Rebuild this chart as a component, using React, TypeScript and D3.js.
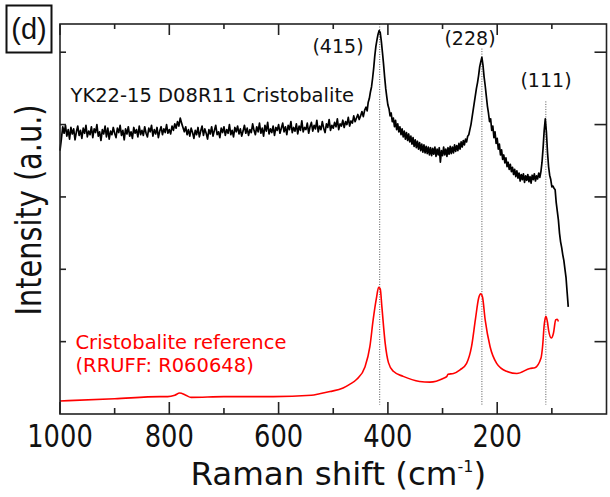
import { useRef, useEffect } from 'react';
import * as d3 from 'd3';

// sample spectrum (YK22-15 D08R11)
// flat part: 1000 -> 442.5 cm-1, every 2.5 cm-1
const sampleFlat = [
    3.64, 3.80, 3.97, 3.88, 3.99, 3.84, 3.93, 3.80, 3.96, 3.87, 3.94, 3.79, 3.90, 3.98, 3.85, 3.92, 3.81, 3.95, 3.88, 3.99,
    3.83, 3.91, 3.86, 3.97, 3.82, 3.94, 3.89, 4.00, 3.84, 3.90, 3.78, 3.93, 3.87, 3.98, 3.83, 3.95, 3.80, 3.91, 3.86, 3.96,
    3.88, 3.82, 3.95, 3.89, 3.99, 3.85, 3.92, 3.79, 3.94, 3.87, 3.97, 3.84, 3.90, 3.81, 3.96, 3.88, 3.93, 3.83, 3.98, 3.86,
    3.92, 3.85, 3.97, 3.88, 3.83, 3.95, 3.90, 3.99, 3.84, 3.93, 3.87, 3.96, 3.82, 3.91, 3.97, 3.86, 3.94, 3.89, 4.00, 3.88,
    3.93, 3.87, 3.98, 3.92, 4.01, 3.95, 4.04, 3.98, 4.09, 4.02, 3.96, 3.90, 3.97, 3.86, 3.93, 3.84, 3.95, 3.89, 3.81, 3.92,
    3.86, 3.96, 3.83, 3.91, 3.98, 3.85, 3.94, 3.88, 3.80, 3.93, 3.87, 3.97, 3.84, 3.92, 3.99, 3.86, 3.90, 3.82, 3.95, 3.89,
    3.97, 3.85, 3.93, 3.88, 4.00, 3.86, 3.92, 3.83, 3.96, 3.90, 3.98, 3.87, 3.94, 3.84, 3.91, 3.99, 3.88, 3.95, 3.85, 3.93,
    3.89, 4.01, 3.92, 3.86, 3.97, 3.90, 4.02, 3.88, 3.95, 3.84, 3.99, 3.91, 4.03, 3.87, 3.94, 3.89, 3.98, 3.85, 3.96, 3.92,
    4.00, 3.88, 3.95, 4.02, 3.90, 3.97, 3.86, 3.99, 3.93, 4.04, 3.89, 3.96, 3.91, 4.01, 3.87, 3.98, 3.92, 4.05, 3.90, 3.96,
    3.93, 4.02, 3.88, 3.97, 4.03, 3.91, 3.99, 3.94, 4.06, 3.90, 3.98, 3.93, 4.04, 3.95, 3.89, 4.01, 3.96, 4.07, 3.92, 3.99,
    3.95, 4.03, 3.97, 4.08, 3.93, 4.01, 3.98, 4.06, 3.96, 4.04, 4.00, 4.10, 3.98, 4.05, 4.02, 4.12, 4.04, 4.09, 4.14, 4.07,
    4.12, 4.18, 4.11, 4.20
];
// peak part: 440 -> 70 cm-1, every 2 cm-1
const samplePeaks = [
    4.24, 4.19, 4.31, 4.36, 4.45, 4.52, 4.64, 4.78, 4.95, 5.08, 5.17, 5.25, 5.30, 5.27, 5.15, 5.00, 4.84, 4.66, 4.50, 4.38,
    4.27, 4.22, 4.12, 4.16, 4.04, 4.09, 3.97, 4.06, 3.93, 4.01, 3.90, 3.97, 3.86, 3.94, 3.83, 3.91, 3.80, 3.89, 3.78, 3.87,
    3.76, 3.84, 3.73, 3.82, 3.70, 3.79, 3.68, 3.77, 3.66, 3.75, 3.64, 3.73, 3.62, 3.72, 3.61, 3.70, 3.60, 3.69, 3.58, 3.68,
    3.57, 3.67, 3.59, 3.69, 3.56, 3.66, 3.58, 3.68, 3.48, 3.64, 3.57, 3.69, 3.58, 3.66, 3.56, 3.68, 3.59, 3.70, 3.60, 3.69,
    3.61, 3.72, 3.63, 3.71, 3.64, 3.74, 3.66, 3.76, 3.69, 3.78, 3.72, 3.80, 3.76, 3.84, 3.86, 3.93, 4.00, 4.10, 4.20, 4.30,
    4.40, 4.50, 4.58, 4.68, 4.80, 4.87, 4.93, 4.82, 4.66, 4.54, 4.40, 4.26, 4.16, 4.04, 4.08, 3.92, 3.98, 3.82, 3.90, 3.74,
    3.81, 3.66, 3.73, 3.58, 3.65, 3.52, 3.58, 3.47, 3.54, 3.42, 3.48, 3.38, 3.45, 3.35, 3.41, 3.31, 3.38, 3.28, 3.36, 3.26,
    3.33, 3.22, 3.31, 3.24, 3.32, 3.20, 3.29, 3.23, 3.31, 3.21, 3.28, 3.19, 3.30, 3.24, 3.32, 3.22, 3.29, 3.25, 3.33, 3.27,
    3.35, 3.48, 3.68, 3.92, 4.08, 3.90, 3.62, 3.42, 3.30, 3.24, 3.14, 3.15, 3.12, 3.10, 2.92, 2.80, 2.68, 2.50, 2.38, 2.30,
    2.20, 2.12, 2.00, 1.88, 1.68, 1.48
];

// RRUFF R060648 reference spectrum
const refShift = [
    1000, 900, 817, 803, 790, 781, 770, 760, 700, 610, 540, 525, 506, 482, 470, 457, 442, 433, 427, 421, 417, 414,
    411, 405, 399, 390, 372, 342, 323, 299, 292, 290, 280, 268, 256, 247, 240, 234, 230, 227, 222, 213,
    201, 183, 164, 140, 131, 120, 117, 114, 111, 108, 106, 101, 97, 93, 90, 88
];
const refIntensity = [
    0.18, 0.21, 0.24, 0.24, 0.26, 0.29, 0.26, 0.23, 0.24, 0.24, 0.26, 0.28, 0.31, 0.36, 0.41, 0.48, 0.65, 0.93, 1.30, 1.60, 1.75, 1.73,
    1.48, 0.98, 0.71, 0.59, 0.52, 0.45, 0.44, 0.49, 0.52, 0.55, 0.56, 0.61, 0.70, 0.93, 1.30, 1.60, 1.66, 1.62, 1.30, 0.93,
    0.70, 0.59, 0.56, 0.63, 0.64, 0.77, 0.93, 1.23, 1.35, 1.27, 1.16, 1.05, 1.12, 1.30, 1.31, 1.28
];

const peakPositions = [415, 228, 111];
const peakLabels = ['(415)', '(228)', '(111)'];
const peakLineTop = [5.39, 5.05, 4.32];

const xTicks = [1000, 800, 600, 400, 200];
const xMinorTicks = [900, 700, 500, 300, 100];
const yTicks = [1, 2, 3, 4, 5];

const RamanChart = () => {
    const svgRef = useRef<SVGSVGElement | null>(null);

    useEffect(() => {
        const svgElement = svgRef.current;
        if (!svgElement) return;

        const width = 610;
        const height = 497;
        const margin = { top: 24, right: 3.5, bottom: 83, left: 60 };
        const font = '"DejaVu Sans", sans-serif';

        const svg = d3.select(svgElement);
        svg.selectAll('*').remove();

        const x = d3.scaleLinear()
            .domain([1000, 0])
            .range([margin.left, width - margin.right]);

        const y = d3.scaleLinear()
            .domain([0, 5.39])
            .range([height - margin.bottom, margin.top]);

        const x0 = margin.left;
        const x1 = width - margin.right;
        const y0 = height - margin.bottom;
        const y1 = margin.top;

        // dotted guide lines at the peaks
        peakPositions.forEach((p, i) => {
            svg.append('line')
                .attr('x1', x(p)).attr('x2', x(p))
                .attr('y1', y(peakLineTop[i]))
                .attr('y2', y(0.13))
                .attr('stroke', '#555')
                .attr('stroke-width', 1)
                .attr('stroke-dasharray', '1,1.5');
        });

        // sampling grid of the spectrometer
        const flatShift = d3.range(sampleFlat.length).map(i => 1000 - i * 2.5);
        const peakShift = d3.range(samplePeaks.length).map(i => 440 - i * 2);

        const sample = flatShift.map((s, i) => ({ s, v: sampleFlat[i] }))
            .concat(peakShift.map((s, i) => ({ s, v: samplePeaks[i] })));
        const ref = refShift.map((s, i) => ({ s, v: refIntensity[i] }));

        const line = d3.line<{ s: number, v: number }>()
            .x(d => x(d.s))
            .y(d => y(d.v));

        svg.append('path')
            .datum(ref)
            .attr('fill', 'none')
            .attr('stroke', '#ff0000')
            .attr('stroke-width', 1.6)
            .attr('d', line.curve(d3.curveMonotoneX)(ref) as string);

        svg.append('path')
            .datum(sample)
            .attr('fill', 'none')
            .attr('stroke', '#000')
            .attr('stroke-width', 1.7)
            .attr('stroke-linejoin', 'round')
            .attr('d', line.curve(d3.curveLinear)(sample) as string);

        // frame
        svg.append('rect')
            .attr('x', x0).attr('y', y1)
            .attr('width', x1 - x0).attr('height', y0 - y1)
            .attr('fill', 'none')
            .attr('stroke', '#222')
            .attr('stroke-width', 1.6);

        // ticks, all pointing inward
        const tickG = svg.append('g').attr('stroke', '#222').attr('stroke-width', 1.6);
        xTicks.concat(xMinorTicks).forEach(t => {
            const len = xTicks.includes(t) ? 12 : 6;
            tickG.append('line').attr('x1', x(t)).attr('x2', x(t)).attr('y1', y0).attr('y2', y0 - len);
            tickG.append('line').attr('x1', x(t)).attr('x2', x(t)).attr('y1', y1).attr('y2', y1 + len - 1);
        });
        yTicks.forEach(t => {
            tickG.append('line').attr('x1', x0).attr('x2', x0 + 6).attr('y1', y(t)).attr('y2', y(t));
            tickG.append('line').attr('x1', x1).attr('x2', x1 - 12).attr('y1', y(t)).attr('y2', y(t));
        });

        // x tick labels
        svg.append('g')
            .selectAll('text')
            .data(xTicks)
            .join('text')
            .attr('transform', d => `translate(${x(d)}, ${y0 + 33}) scale(0.92, 1.14)`)
            .attr('text-anchor', 'middle')
            .style('font-family', font)
            .style('font-size', '28px')
            .style('fill', '#111')
            .text(d => d);

        // axis titles
        const xLabel = svg.append('text')
            .attr('x', (x0 + x1) / 2 + 5)
            .attr('y', 485)
            .attr('text-anchor', 'middle')
            .style('font-family', font)
            .style('font-size', '32.5px')
            .style('fill', '#111');
        xLabel.append('tspan').text('Raman shift (cm');
        xLabel.append('tspan').attr('dy', -13).style('font-size', '16px').text('-1');
        xLabel.append('tspan').attr('dy', 13).text(')');

        svg.append('text')
            .attr('transform', `translate(41, 210) rotate(-90) scale(0.8, 1)`)
            .attr('text-anchor', 'middle')
            .style('font-family', font)
            .style('font-size', '36px')
            .style('fill', '#111')
            .text('Intensity (a.u.)');

        // peak labels
        peakLabels.forEach((lab, i) => {
            const pos = [[338, 52.5], [470, 45], [546, 86.5]][i];
            svg.append('text')
                .attr('x', pos[0]).attr('y', pos[1])
                .attr('text-anchor', 'middle')
                .style('font-family', font)
                .style('font-size', '19px')
                .style('fill', '#111')
                .text(lab);
        });

        svg.append('text')
            .attr('x', 70.5).attr('y', 102)
            .style('font-family', font)
            .style('font-size', '19.5px')
            .style('fill', '#111')
            .text('YK22-15 D08R11 Cristobalite');

        svg.append('text')
            .attr('x', 75.5).attr('y', 348.5)
            .style('font-family', font)
            .style('font-size', '19.5px')
            .style('fill', '#ff0000')
            .text('Cristobalite reference');

        svg.append('text')
            .attr('x', 75.5).attr('y', 372)
            .style('font-family', font)
            .style('font-size', '19.5px')
            .style('fill', '#ff0000')
            .text('(RRUFF: R060648)');

        // panel letter
        svg.append('rect')
            .attr('x', 6.5).attr('y', 5.5)
            .attr('width', 45).attr('height', 47)
            .attr('fill', 'none')
            .attr('stroke', '#111')
            .attr('stroke-width', 2);

        svg.append('text')
            .attr('x', 29).attr('y', 38.5)
            .attr('text-anchor', 'middle')
            .style('font-family', '"Liberation Sans", Arial, sans-serif')
            .style('font-size', '29px')
            .style('fill', '#111')
            .text('(d)');
    }, []);

    return (
        <svg ref={svgRef} width={610} height={497}
            style={{ position: 'absolute', left: 0, top: 0, background: '#fff' }} />
    );
};

export default function App() {
    return <RamanChart />;
}
